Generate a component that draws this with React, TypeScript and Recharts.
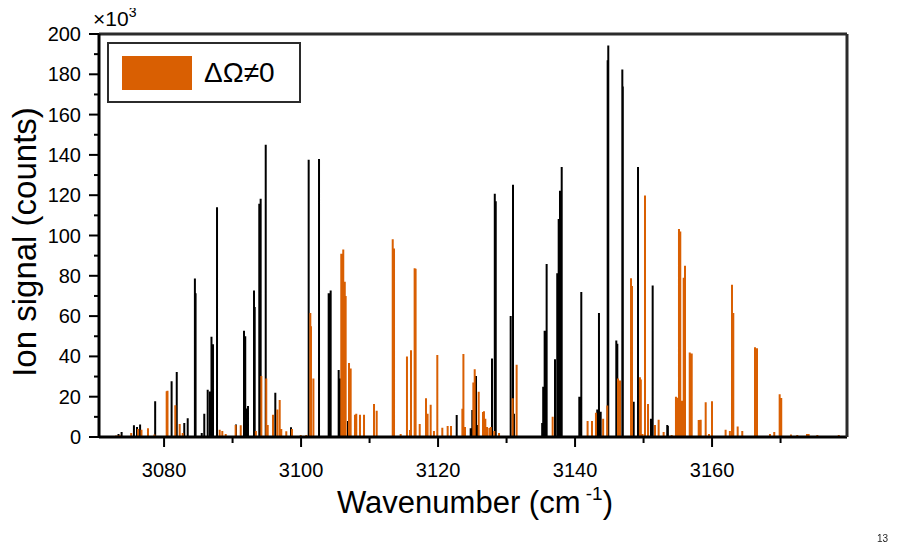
import React from "react";
import { LineChart, Line, XAxis, YAxis } from "recharts";

// [wavenumber, counts ×10^3]
const blackSticks: [number, number][] = [
  [3073.35, 1.5], [3073.8, 2.5], [3075.6, 5.8], [3076.05, 5], [3076.5, 6.2],
  [3078.7, 17.7], [3081.1, 27.7], [3081.85, 32.3], [3082.95, 7], [3083.45, 9.3],
  [3084.5, 78.7], [3084.6, 71.4], [3085.5, 2], [3085.87, 11.6], [3086.37, 23.4],
  [3086.7, 22.6], [3086.92, 49.8], [3087.14, 46], [3087.73, 114], [3090.5, 6.2],
  [3091.67, 52.7], [3091.85, 50], [3092.03, 14.2], [3092.25, 15.4], [3093.13, 72.7],
  [3093.23, 64.5], [3093.9, 115.8], [3094.1, 118.3], [3094.84, 145], [3096.24, 22],
  [3098.53, 4.8], [3101.11, 137.6], [3102.62, 138], [3104.03, 71.4], [3104.32, 72.7],
  [3105.49, 33.3], [3105.72, 29], [3106.85, 8], [3122.72, 10.9], [3124.76, 4.3],
  [3125.0, 13.4], [3125.54, 30.3], [3125.7, 6], [3127.87, 39], [3128.28, 120.7],
  [3128.42, 117], [3130.6, 60], [3130.94, 125.2], [3131.08, 11.6], [3135.2, 7],
  [3135.35, 25], [3135.56, 52.7], [3135.85, 85.8], [3137.07, 38.6], [3137.4, 81.3],
  [3137.61, 108.2], [3137.8, 122.2], [3138.05, 134], [3140.62, 20], [3140.91, 71.9],
  [3143.24, 13.7], [3143.49, 61.5], [3143.74, 12.5], [3144.76, 187], [3144.85, 194.3],
  [3146.02, 47.9], [3146.17, 46.3], [3146.9, 182.4], [3146.97, 174], [3148.56, 17.5],
  [3149.19, 134], [3151.08, 9], [3151.33, 75.2], [3153.46, 6], [3153.55, 5.5],
];

// ΔΩ≠0 transitions
const orangeSticks: [number, number][] = [
  [3073.0, 0.8], [3073.5, 1], [3075.2, 2], [3076.2, 4], [3076.7, 3.6],
  [3077.65, 4.3], [3078.6, 1.3], [3080.38, 22.7], [3080.5, 23], [3081.64, 15.7],
  [3082.28, 6.4], [3082.72, 2], [3088.12, 3.6], [3088.5, 3], [3089.0, 1.5],
  [3090.45, 6], [3091.19, 5.8], [3093.4, 3], [3094.2, 30.3], [3094.92, 29],
  [3095.13, 6], [3095.9, 11], [3096.53, 13.6], [3096.88, 18.4], [3097.11, 4],
  [3097.84, 2.8], [3098.67, 4], [3099.95, 1], [3100.76, 1], [3101.35, 61.5],
  [3101.45, 55], [3101.8, 29], [3105.87, 91], [3106.16, 93], [3106.38, 77],
  [3106.51, 70], [3107.0, 36.7], [3107.24, 34], [3107.87, 11], [3108.06, 11.5],
  [3108.6, 11], [3109.19, 11], [3110.65, 16.4], [3111.04, 13], [3113.38, 98.2],
  [3113.57, 93.6], [3114.54, 1.5], [3115.46, 39.9], [3115.9, 3.5], [3116.05, 43],
  [3116.58, 83.8], [3116.72, 83.5], [3117.32, 6.5], [3118.24, 19.2], [3118.47, 11.5],
  [3118.92, 16], [3119.4, 3], [3119.89, 40.7], [3120.62, 4.6], [3121.4, 5.5],
  [3121.89, 5.5], [3123.55, 14], [3123.7, 41.2], [3123.93, 5], [3125.15, 27],
  [3125.35, 33.6], [3125.93, 22.5], [3126.56, 12.4], [3126.7, 12.8], [3126.9, 9],
  [3127.15, 5], [3127.5, 4.5], [3127.7, 5], [3128.2, 3], [3128.9, 2],
  [3130.89, 19.2], [3131.47, 35.8], [3136.73, 10], [3141.83, 8], [3142.47, 8],
  [3143.05, 12], [3144.1, 9], [3144.7, 15.6], [3146.27, 29], [3146.56, 28],
  [3148.17, 78.8], [3148.31, 75], [3149.47, 29.6], [3149.6, 28.5], [3149.85, 1.5],
  [3150.21, 119.8], [3150.65, 16.4], [3151.67, 6], [3152.2, 8.5], [3152.93, 2.5],
  [3154.1, 1], [3154.73, 20], [3154.88, 19.5], [3155.17, 103.2], [3155.36, 102],
  [3155.57, 18], [3155.86, 79], [3156.05, 85], [3156.74, 41.9], [3157.03, 41.5],
  [3158.05, 8.4], [3158.34, 8.6], [3159.07, 17.2], [3159.55, 1.5], [3159.99, 17.8],
  [3161.98, 3.6], [3162.6, 3], [3162.91, 75.5], [3163.1, 61.5], [3163.74, 5.2],
  [3164.41, 3], [3166.27, 44.6], [3166.56, 44], [3168.46, 1.5], [3169.08, 2.5],
  [3169.87, 21.2], [3170.1, 19.4], [3171.52, 1.3], [3172.44, 1], [3173.86, 1.5],
  [3174.1, 1.5], [3175.37, 1], [3178.5, 1],
];

const xTicks = [3080, 3090, 3100, 3110, 3120, 3130, 3140, 3150, 3160, 3170];
const xLabeled = [3080, 3100, 3120, 3140, 3160];
const yTicks = [0, 10, 20, 30, 40, 50, 60, 70, 80, 90, 100, 110, 120, 130, 140, 150, 160, 170, 180, 190, 200];
const yLabeled = [0, 20, 40, 60, 80, 100, 120, 140, 160, 180, 200];

const X_DOMAIN: [number, number] = [3070.5, 3179.7];
const Y_DOMAIN: [number, number] = [0, 200];

const ORANGE = "#d95f02";
const FONT = "'Liberation Sans', Arial, Helvetica, sans-serif";

// each stick becomes baseline -> peak -> baseline so a plain line draws it
const toSpikes = (list: [number, number][]) =>
  list.flatMap(([w, v]) => [
    { w, v: 0 },
    { w, v },
    { w, v: 0 },
  ]);

const XTick = ({ x, y, payload }: any) => {
  const major = xLabeled.includes(payload.value);
  return (
    <g>
      <line x1={x} x2={x} y1={y} y2={y + (major ? 10 : 6)} stroke="#000" strokeWidth={2} />
      {major && (
        <text x={x} y={y + 40} textAnchor="middle" fontSize={20} fontFamily={FONT} fill="#000">
          {payload.value}
        </text>
      )}
    </g>
  );
};

const YTick = ({ x, y, payload }: any) => {
  const major = yLabeled.includes(payload.value);
  return (
    <g>
      <line x1={x} x2={x - (major ? 10 : 5)} y1={y} y2={y} stroke="#000" strokeWidth={2} />
      {major && (
        <text x={x - 18} y={y + 7} textAnchor="end" fontSize={20} fontFamily={FONT} fill="#000">
          {payload.value}
        </text>
      )}
    </g>
  );
};

const App = () => {
  return (
    <div style={{ position: "relative", width: 883, height: 529, fontFamily: FONT }}>
      <LineChart width={883} height={529} margin={{ top: 25, right: 43, bottom: 99, left: 90 }}>
        <XAxis
          xAxisId="bottom"
          dataKey="w"
          type="number"
          domain={X_DOMAIN}
          allowDataOverflow
          ticks={xTicks}
          interval={0}
          height={1}
          tickSize={0}
          tickMargin={0}
          tickLine={false}
          tick={<XTick />}
          axisLine={{ stroke: "#000", strokeWidth: 3 }}
        />
        <XAxis
          xAxisId="top"
          orientation="top"
          dataKey="w"
          type="number"
          domain={X_DOMAIN}
          allowDataOverflow
          height={1}
          tick={false}
          tickLine={false}
          axisLine={{ stroke: "#2b2b2b", strokeWidth: 3 }}
        />
        <YAxis
          yAxisId="left"
          type="number"
          domain={Y_DOMAIN}
          allowDataOverflow
          ticks={yTicks}
          interval={0}
          width={1}
          tickSize={0}
          tickMargin={0}
          tickLine={false}
          tick={<YTick />}
          axisLine={{ stroke: "#000", strokeWidth: 3 }}
        />
        <YAxis
          yAxisId="right"
          orientation="right"
          type="number"
          domain={Y_DOMAIN}
          width={1}
          tick={false}
          tickLine={false}
          axisLine={{ stroke: "#2b2b2b", strokeWidth: 3 }}
        />
        <Line
          xAxisId="bottom"
          yAxisId="left"
          data={toSpikes(blackSticks)}
          dataKey="v"
          stroke="#000"
          strokeWidth={2}
          dot={false}
          activeDot={false}
          isAnimationActive={false}
        />
        <Line
          xAxisId="bottom"
          yAxisId="left"
          data={toSpikes(orangeSticks)}
          dataKey="v"
          stroke={ORANGE}
          strokeWidth={2}
          dot={false}
          activeDot={false}
          isAnimationActive={false}
        />
      </LineChart>

      {/* titles and exponent */}
      <svg
        width={883}
        height={529}
        style={{ position: "absolute", left: 0, top: 0, pointerEvents: "none", overflow: "visible" }}
      >
        <text x={85} y={18} fontSize={21} fontFamily={FONT} fill="#000">
          ×10
          <tspan fontSize={14} dy={-9}>
            3
          </tspan>
        </text>
        <text
          x={28}
          y={234}
          transform="rotate(-90 28 234)"
          textAnchor="middle"
          fontSize={33}
          fontFamily={FONT}
          fill="#000"
        >
          Ion signal (counts)
        </text>
        <text x={467} y={505} textAnchor="middle" fontSize={31} fontFamily={FONT} fill="#000">
          Wavenumber (cm
          <tspan fontSize={19} dy={-13}>
            {" -1"}
          </tspan>
          <tspan dy={13}>)</tspan>
        </text>
      </svg>

      {/* legend */}
      <div
        style={{
          position: "absolute",
          left: 99,
          top: 34,
          width: 194,
          height: 61,
          boxSizing: "border-box",
          border: "2px solid #2b2b2b",
          background: "#fff",
          display: "flex",
          alignItems: "center",
        }}
      >
        <div style={{ marginLeft: 13, width: 70, height: 34, background: ORANGE }} />
        <span style={{ marginLeft: 12, fontSize: 28, color: "#000", lineHeight: 1 }}>ΔΩ≠0</span>
      </div>

      <div
        style={{
          position: "fixed",
          left: 877,
          top: 534,
          fontSize: 10,
          lineHeight: 1,
          color: "#222",
          fontFamily: FONT,
        }}
      >
        13
      </div>
    </div>
  );
};

export default App;
